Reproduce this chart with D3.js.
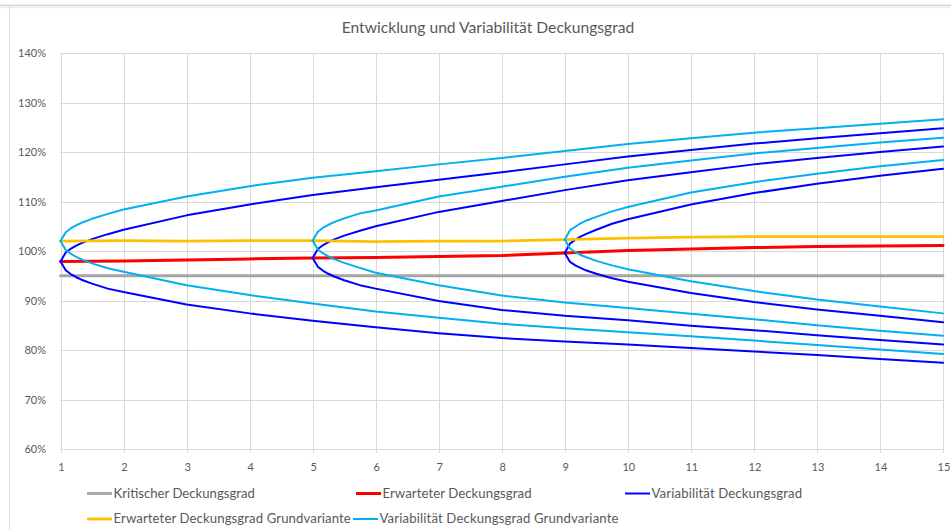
<!DOCTYPE html>
<html><head><meta charset="utf-8">
<script src="https://cdn.jsdelivr.net/npm/d3@7/dist/d3.min.js"></script>
<style>
body{margin:0;background:#fff;}
svg{display:block;font-family:Lato,"Open Sans",sans-serif;}
</style>
</head><body>
<svg id="chart" width="951" height="530"></svg>
<script>
// ---------------- DATA ----------------
const chartTitle = "Entwicklung und Variabilität Deckungsgrad";
const years = [1,2,3,4,5,6,7,8,9,10,11,12,13,14,15];
const yTickValues = [60,70,80,90,100,110,120,130,140];

const kritischerDG = [95,95,95,95,95,95,95,95,95,95,95,95,95,95,95];
const erwarteterDG = [97.9,98.0,98.2,98.4,98.6,98.7,98.9,99.1,99.6,100.1,100.4,100.7,100.9,101.0,101.1];
const erwarteterDGGrund = [102.0,102.1,102.0,102.1,102.1,101.9,102.0,102.0,102.3,102.6,102.8,102.9,102.9,102.9,102.9];

// x positions of the variability fans (start years 1, 5, 9)
const fan1X = [1,1.083,1.167,1.25,1.333,1.5,1.75,2,3,4,5,6,7,8,9,10,11,12,13,14,15];
const fan2X = [5,5.083,5.167,5.25,5.333,5.5,5.75,6,7,8,9,10,11,12,13,14,15];
const fan3X = [9,9.083,9.167,9.25,9.333,9.5,9.75,10,11,12,13,14,15];

// Variabilität Deckungsgrad (dark blue)
const var1Upper = [97.9,99.7,100.5,101.1,101.6,102.4,103.4,104.3,107.2,109.4,111.3,112.9,114.4,115.9,117.5,119.1,120.4,121.7,122.8,123.8,124.8];
const var1Lower = [97.9,96.1,95.3,94.7,94.2,93.4,92.4,91.7,89.2,87.4,85.9,84.6,83.4,82.4,81.7,81.1,80.4,79.7,79.0,78.2,77.4];
const var2Upper = [98.6,100.4,101.2,101.8,102.3,103.1,104.1,105.0,107.9,110.1,112.3,114.3,115.9,117.5,118.8,120.0,121.1];
const var2Lower = [98.6,96.8,96.0,95.4,94.9,94.1,93.1,92.4,89.9,88.1,86.9,86.0,84.9,84.0,83.0,82.0,81.1];
const var3Upper = [99.6,101.5,102.3,102.9,103.4,104.3,105.5,106.4,109.4,111.7,113.6,115.2,116.6];
const var3Lower = [99.6,97.8,97.1,96.6,96.1,95.4,94.5,93.8,91.5,89.7,88.2,86.9,85.6];

// Variabilität Deckungsgrad Grundvariante (light blue)
const grund1Upper = [102.0,103.8,104.6,105.2,105.7,106.5,107.5,108.4,111.0,113.1,114.8,116.1,117.5,118.8,120.2,121.6,122.8,123.9,124.8,125.7,126.6];
const grund1Lower = [102.0,100.2,99.4,98.8,98.3,97.5,96.5,95.8,93.1,91.1,89.4,87.8,86.5,85.3,84.4,83.6,82.8,81.9,81.0,80.1,79.2];
const grund2Upper = [102.1,103.9,104.7,105.3,105.8,106.6,107.6,108.2,111.0,113.0,115.0,116.8,118.3,119.7,120.8,121.9,122.9];
const grund2Lower = [102.1,100.3,99.5,98.9,98.4,97.6,96.6,95.6,93.1,91.0,89.6,88.5,87.3,86.2,85.0,83.9,82.9];
const grund3Upper = [102.3,104.2,104.9,105.6,106.1,106.9,108.0,108.9,111.8,113.9,115.6,117.1,118.4];
const grund3Lower = [102.3,100.5,99.8,99.2,98.8,98.0,97.1,96.3,93.9,91.9,90.2,88.8,87.4];

const legendNames = ["Kritischer Deckungsgrad","Erwarteter Deckungsgrad","Variabilität Deckungsgrad",
                     "Erwarteter Deckungsgrad Grundvariante","Variabilität Deckungsgrad Grundvariante"];

// ---------------- STYLE ----------------
const colors = {krit:"#a5a5a5", erw:"#ff0000", vari:"#0000ff", erwG:"#ffc000", variG:"#00b0f0"};
const widths = {krit:2.8, erw:3, vari:2, erwG:2.8, variG:2};
const textColor = "#595959";
const gridColor = "#d9d9d9";

// ---------------- DRAW ----------------
const svg = d3.select("#chart");
svg.append("rect").attr("width",951).attr("height",530).attr("fill","#fff");

// outer frame hints
svg.append("line").attr("x1",0).attr("x2",951).attr("y1",5.5).attr("y2",5.5).attr("stroke","#d4d4d4").attr("stroke-width",1.5);
svg.append("line").attr("x1",0).attr("x2",951).attr("y1",7.5).attr("y2",7.5).attr("stroke","#efefef").attr("stroke-width",1.5);
svg.append("line").attr("x1",9.5).attr("x2",9.5).attr("y1",6).attr("y2",530).attr("stroke","#dcdcdc").attr("stroke-width",1);

const x = d3.scaleLinear().domain([1,15]).range([60.5,943]);
const y = d3.scaleLinear().domain([60,140]).range([449,53]);

// horizontal gridlines
svg.append("g").selectAll("line").data(yTickValues).join("line")
  .attr("x1",x(1)).attr("x2",x(15)+1)
  .attr("y1",d=>Math.round(y(d))+0.5).attr("y2",d=>Math.round(y(d))+0.5)
  .attr("stroke",gridColor).attr("stroke-width",1);
// vertical gridlines
svg.append("g").selectAll("line").data(years).join("line")
  .attr("x1",d=>Math.round(x(d))+0.5).attr("x2",d=>Math.round(x(d))+0.5)
  .attr("y1",y(140)).attr("y2",y(60)+4)
  .attr("stroke",gridColor).attr("stroke-width",1);

// y axis labels
svg.append("g").selectAll("text").data(yTickValues).join("text")
  .attr("x",46).attr("y",d=>y(d)+4)
  .attr("text-anchor","end").attr("font-size",11).attr("fill",textColor)
  .text(d=>d+"%");
// x axis labels
svg.append("g").selectAll("text").data(years).join("text")
  .attr("x",d=>x(d)+1).attr("y",470.5)
  .attr("text-anchor","middle").attr("font-size",11).attr("fill",textColor)
  .text(d=>d);

// title
const title = svg.append("text").attr("x",488).attr("y",32.5).attr("text-anchor","middle")
  .attr("font-size",15).attr("fill",textColor).text(chartTitle);
function fit(sel,target){
  const w = sel.node().getComputedTextLength();
  const fs = parseFloat(sel.attr("font-size"));
  const nf = fs*target/w; sel.attr("font-size",nf); return nf;
}
fit(title,293);

// series
const lineGen = d3.line().x(d=>x(d[0])).y(d=>y(d[1]));
function drawSeries(xs, ys, key){
  svg.append("path").datum(xs.map((v,i)=>[v,ys[i]]))
    .attr("d",lineGen).attr("fill","none")
    .attr("stroke",colors[key]).attr("stroke-width",widths[key])
    .attr("stroke-linejoin","round").attr("stroke-linecap","round");
}
drawSeries(years,kritischerDG,"krit");
drawSeries(years,erwarteterDG,"erw");
drawSeries(fan1X,var1Upper,"vari");
drawSeries(fan1X,var1Lower,"vari");
drawSeries(fan2X,var2Upper,"vari");
drawSeries(fan2X,var2Lower,"vari");
drawSeries(fan3X,var3Upper,"vari");
drawSeries(fan3X,var3Lower,"vari");
drawSeries(years,erwarteterDGGrund,"erwG");
drawSeries(fan1X,grund1Upper,"variG");
drawSeries(fan1X,grund1Lower,"variG");
drawSeries(fan2X,grund2Upper,"variG");
drawSeries(fan2X,grund2Lower,"variG");
drawSeries(fan3X,grund3Upper,"variG");
drawSeries(fan3X,grund3Lower,"variG");

// legend
const legendKeys = ["krit","erw","vari","erwG","variG"];
const legendPos = [[87,493.5],[356,493.5],[625,493.5],[87,519],[353,519]];
const legendTextWidths = [141.6,149,150.6,237.3,239];
const lg = svg.append("g");
let legendFont = null;
legendNames.forEach((name,i)=>{
  const [lx,ly] = legendPos[i];
  const k = legendKeys[i];
  lg.append("line").attr("x1",lx).attr("x2",lx+25).attr("y1",ly).attr("y2",ly)
    .attr("stroke",colors[k]).attr("stroke-width",widths[k]);
  const t = lg.append("text").attr("x",lx+26.5).attr("y",ly+4.3)
    .attr("font-size",legendFont||12).attr("fill",textColor).text(name);
  if(i===0) legendFont = fit(t,legendTextWidths[0]);
  else t.attr("textLength",legendTextWidths[i]).attr("lengthAdjust","spacing");
});
</script>
</body></html>
